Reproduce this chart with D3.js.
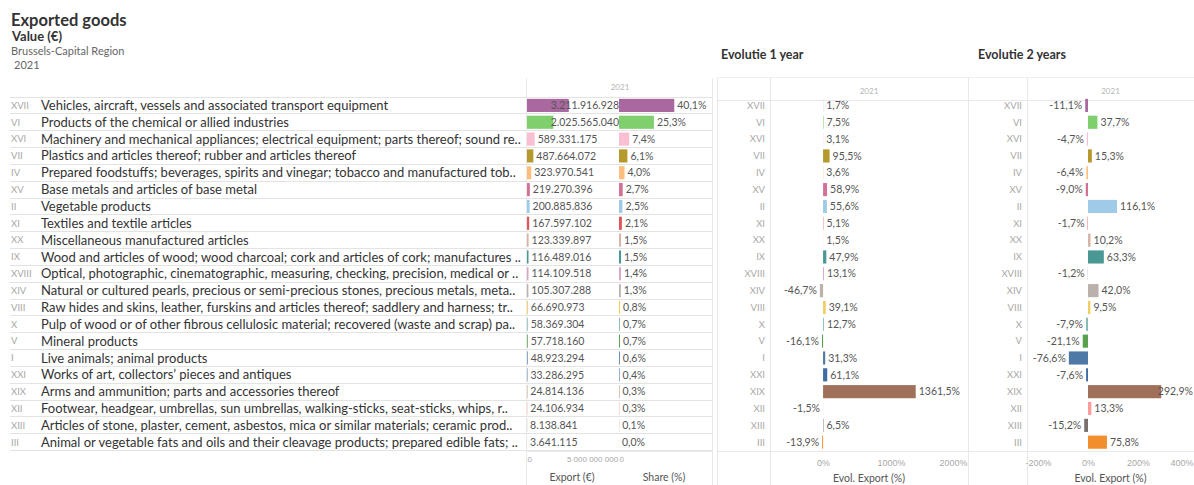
<!DOCTYPE html>
<html>
<head>
<meta charset="utf-8">
<script src="https://cdn.jsdelivr.net/npm/d3@7"></script>
<style>
  html, body { margin: 0; padding: 0; background: #fff; }
  svg { display: block; font-family: Lato, "Open Sans", sans-serif; }
</style>
</head>
<body>
<svg id="chart" width="1194" height="485"></svg>
<script>
// HS sections, in the order they are listed (largest export first)
const sections = ["XVII","VI","XVI","VII","IV","XV","II","XI","XX","IX","XVIII","XIV","VIII","X","V","I","XXI","XIX","XII","XIII","III"];

const sectionNames = [
  "Vehicles, aircraft, vessels and associated transport equipment",
  "Products of the chemical or allied industries",
  "Machinery and mechanical appliances; electrical equipment; parts thereof; sound re..",
  "Plastics and articles thereof; rubber and articles thereof",
  "Prepared foodstuffs; beverages, spirits and vinegar; tobacco and manufactured tob..",
  "Base metals and articles of base metal",
  "Vegetable products",
  "Textiles and textile articles",
  "Miscellaneous manufactured articles",
  "Wood and articles of wood; wood charcoal; cork and articles of cork; manufactures ..",
  "Optical, photographic, cinematographic, measuring, checking, precision, medical or ..",
  "Natural or cultured pearls, precious or semi-precious stones, precious metals, meta..",
  "Raw hides and skins, leather, furskins and articles thereof; saddlery and harness; tr..",
  "Pulp of wood or of other fibrous cellulosic material; recovered (waste and scrap) pa..",
  "Mineral products",
  "Live animals; animal products",
  "Works of art, collectors’ pieces and antiques",
  "Arms and ammunition; parts and accessories thereof",
  "Footwear, headgear, umbrellas, sun umbrellas, walking-sticks, seat-sticks, whips, r..",
  "Articles of stone, plaster, cement, asbestos, mica or similar materials; ceramic prod..",
  "Animal or vegetable fats and oils and their cleavage products; prepared edible fats; .."
];

// Export value in euro, 2021
const exportValues = [3211916928, 2025565040, 589331175, 487664072, 323970541, 219270396, 200885836, 167597102, 123339897, 116489016, 114109518, 105307288, 66690973, 58369304, 57718160, 48923294, 33286295, 24814136, 24106934, 8138841, 3641115];

// Share of total export (%)
const shareValues = [40.1, 25.3, 7.4, 6.1, 4.0, 2.7, 2.5, 2.1, 1.5, 1.5, 1.4, 1.3, 0.8, 0.7, 0.7, 0.6, 0.4, 0.3, 0.3, 0.1, 0.0];

// Evolution of export value over 1 year and over 2 years (%)
const evol1Values = [1.7, 7.5, 3.1, 95.5, 3.6, 58.9, 55.6, 5.1, 1.5, 47.9, 13.1, -46.7, 39.1, 12.7, -16.1, 31.3, 61.1, 1361.5, -1.5, 6.5, -13.9];
const evol2Values = [-11.1, 37.7, -4.7, 15.3, -6.4, -9.0, 116.1, -1.7, 10.2, 63.3, -1.2, 42.0, 9.5, -7.9, -21.1, -76.6, -7.6, 292.9, 13.3, -15.2, 75.8];

// Axis ticks
const exportTicks = [0, 5000000000];
const shareTicks = [0];
const evol1Ticks = [0, 1000, 2000];
const evol2Ticks = [-200, 0, 200, 400];

// One colour per HS section (I .. XXI)
const sectionOrder = ["I","II","III","IV","V","VI","VII","VIII","IX","X","XI","XII","XIII","XIV","XV","XVI","XVII","XVIII","XIX","XX","XXI"];
const palette = ["#4e79a7","#a0cbe8","#f28e2b","#ffbe7d","#59a14f","#7fcf6d","#b6992d","#f1ce63","#499894","#86bcb6",
                 "#e15759","#ff9d9a","#79706e","#bab0ac","#d37295","#fabfd2","#a9689f","#d4a6c8","#a0705a","#d7b5a6","#3f6d9f"];
const color = d3.scaleOrdinal().domain(sectionOrder).range(palette);

const nl = d3.formatLocale({decimal: ",", thousands: ".", grouping: [3], currency: ["€", ""], minus: "-"});
const fmtInt = nl.format(",.0f");
const fmtPct = v => nl.format(".1f")(v) + "%";
const fmtTickPct = v => nl.format(".0f")(v) + "%";

const rows = sections.map((s, i) => ({
  id: s, name: sectionNames[i], exp: exportValues[i], share: shareValues[i],
  e1: evol1Values[i], e2: evol2Values[i]
}));

const svg = d3.select("#chart");
const W = 1194, H = 485;

const GRID = "#e3e3e3", PANEL = "#e8e8e8";
const DIM = "#a8a8a8", LABEL = "#333", VALUE = "#555";

// Row layout shared by all panels
const rowBand = d3.scaleBand().domain(sections).range([97, 450.6]).padding(0);
const barBand = d3.scaleBand().domain(sections).range([97, 450.6]).paddingInner(0.22).paddingOuter(0.11);

// ---------- Titles ----------
svg.append("text").attr("x", 11).attr("y", 26).attr("font-size", 16.5).attr("font-weight", 700)
  .attr("fill", "#333").text("Exported goods");
svg.append("text").attr("x", 12).attr("y", 41).attr("font-size", 13).attr("font-weight", 700)
  .attr("fill", "#333").text("Value (€)");
svg.append("text").attr("x", 11).attr("y", 55).attr("font-size", 11)
  .attr("fill", "#666").text("Brussels-Capital Region");
svg.append("text").attr("x", 14).attr("y", 69).attr("font-size", 11)
  .attr("fill", "#666").text("2021");
svg.append("text").attr("x", 721).attr("y", 59).attr("font-size", 12.5).attr("font-weight", 700)
  .attr("fill", "#333").text("Evolutie 1 year");
svg.append("text").attr("x", 978).attr("y", 59).attr("font-size", 12.5).attr("font-weight", 700)
  .attr("fill", "#333").text("Evolutie 2 years");

// ---------- Main table ----------
const xExport = d3.scaleLinear().domain([0, 7000000000]).range([527, 618]);
const xShare = d3.scaleLinear().domain([0, 66]).range([619, 710]);

const table = svg.append("g");

// Row separators
table.selectAll("line.row").data(sections.concat(["__end"])).join("line")
  .attr("x1", 10).attr("x2", 712)
  .attr("y1", (d, i) => 97 + i * rowBand.step()).attr("y2", (d, i) => 97 + i * rowBand.step())
  .attr("stroke", GRID).attr("stroke-width", 1).attr("shape-rendering", "crispEdges");

// Pane borders
[526, 712].forEach(x => table.append("line").attr("x1", x).attr("x2", x).attr("y1", 78).attr("y2", H)
  .attr("stroke", PANEL).attr("shape-rendering", "crispEdges"));
table.append("text").attr("x", 620).attr("y", 90).attr("text-anchor", "middle")
  .attr("font-size", 8).attr("fill", "#b5b5b5").text("2021");

// Section numbers and names
table.selectAll("text.num").data(rows).join("text")
  .attr("x", 11).attr("y", d => rowBand(d.id) + rowBand.bandwidth() / 2)
  .attr("dy", "0.35em").attr("font-size", 9.5).attr("fill", DIM).text(d => d.id);

table.selectAll("text.name").data(rows).join("text")
  .attr("x", 41).attr("y", d => rowBand(d.id) + rowBand.bandwidth() / 2)
  .attr("dy", "0.35em").attr("font-size", 13).attr("fill", LABEL).text(d => d.name)
  .each(function () {
    const w = this.getComputedTextLength();
    if (w > 482) d3.select(this).attr("textLength", 482).attr("lengthAdjust", "spacingAndGlyphs");
  });

// Bars with value labels that stay inside their pane
function barColumn(g, scale, key, fmt, right) {
  g.selectAll(null).data(rows).join("rect")
    .attr("x", scale(0)).attr("y", d => barBand(d.id))
    .attr("width", d => Math.max(0, scale(d[key]) - scale(0)))
    .attr("height", barBand.bandwidth())
    .attr("fill", d => color(d.id));
  g.selectAll(null).data(rows).join("text")
    .attr("y", d => rowBand(d.id) + rowBand.bandwidth() / 2).attr("dy", "0.35em")
    .attr("font-size", 10.5).attr("fill", VALUE).text(d => fmt(d[key]))
    .each(function (d) {
      const w = this.getComputedTextLength();
      let x = scale(d[key]) + 3;
      if (x + w > right) x = right - w;
      d3.select(this).attr("x", x);
    });
}
barColumn(table.append("g"), xExport, "exp", fmtInt, 619);
barColumn(table.append("g"), xShare, "share", fmtPct, 709);

// Bottom axes of the table
table.append("line").attr("x1", 526).attr("x2", 712).attr("y1", 451).attr("y2", 451)
  .attr("stroke", PANEL).attr("shape-rendering", "crispEdges");

function styleAxis(g, size) {
  g.select(".domain").remove();
  g.selectAll(".tick line").remove();
  g.selectAll(".tick text").attr("font-size", size).attr("fill", DIM).attr("font-family", null);
}
const axExport = table.append("g").attr("transform", "translate(0,453)")
  .call(d3.axisBottom(xExport).tickValues(exportTicks).tickSize(0).tickFormat(v => v === 0 ? "0" : fmtInt(v).replace(/\./g, " ")));
styleAxis(axExport, 8);
axExport.selectAll(".tick text").filter(d => d === 0).attr("text-anchor", "start");
const axShare = table.append("g").attr("transform", "translate(0,453)")
  .call(d3.axisBottom(xShare).tickValues(shareTicks).tickSize(0).tickFormat(() => "0"));
styleAxis(axShare, 8);
axShare.selectAll(".tick text").attr("text-anchor", "start");

table.append("text").attr("x", 572).attr("y", 481).attr("text-anchor", "middle")
  .attr("font-size", 10.5).attr("fill", VALUE).text("Export (€)");
table.append("text").attr("x", 664).attr("y", 481).attr("text-anchor", "middle")
  .attr("font-size", 10.5).attr("fill", VALUE).text("Share (%)");

// ---------- Evolution panels ----------
function evolPanel(opts) {
  const { left, sep, right, domain, key, ticks } = opts;
  const g = svg.append("g");
  const x = d3.scaleLinear().domain(domain).range([sep, right]);

  g.append("line").attr("x1", left).attr("x2", left).attr("y1", 77).attr("y2", H)
    .attr("stroke", PANEL).attr("shape-rendering", "crispEdges");
  g.append("line").attr("x1", sep).attr("x2", sep).attr("y1", 77).attr("y2", H)
    .attr("stroke", PANEL).attr("shape-rendering", "crispEdges");
  g.append("line").attr("x1", left).attr("x2", right).attr("y1", 77).attr("y2", 77)
    .attr("stroke", "#f0f0f0").attr("shape-rendering", "crispEdges");
  g.append("line").attr("x1", left).attr("x2", right).attr("y1", 100).attr("y2", 100)
    .attr("stroke", PANEL).attr("shape-rendering", "crispEdges");
  g.append("line").attr("x1", left).attr("x2", right).attr("y1", 451).attr("y2", 451)
    .attr("stroke", PANEL).attr("shape-rendering", "crispEdges");
  g.append("text").attr("x", (sep + right) / 2).attr("y", 94).attr("text-anchor", "middle")
    .attr("font-size", 8).attr("fill", "#b5b5b5").text("2021");

  g.selectAll("text.num").data(rows).join("text")
    .attr("x", sep - 5).attr("y", d => rowBand(d.id) + rowBand.bandwidth() / 2)
    .attr("dy", "0.35em").attr("text-anchor", "end")
    .attr("font-size", 9.5).attr("fill", DIM).text(d => d.id);

  g.selectAll("rect").data(rows).join("rect")
    .attr("x", d => Math.min(x(0), x(d[key])))
    .attr("y", d => barBand(d.id))
    .attr("width", d => Math.abs(x(d[key]) - x(0)))
    .attr("height", barBand.bandwidth())
    .attr("fill", d => color(d.id));

  g.selectAll("text.val").data(rows).join("text")
    .attr("y", d => rowBand(d.id) + rowBand.bandwidth() / 2).attr("dy", "0.35em")
    .attr("font-size", 10.5).attr("fill", VALUE).text(d => fmtPct(d[key]))
    .each(function (d) {
      const v = d[key], w = this.getComputedTextLength();
      let xs = v >= 0 ? x(v) + 3 : x(v) - 3 - w;
      if (xs + w > right - 1) xs = right - 1 - w;
      d3.select(this).attr("x", xs);
    });

  const ax = g.append("g").attr("transform", "translate(0,457)")
    .call(d3.axisBottom(x).tickValues(ticks).tickSize(0).tickFormat(fmtTickPct));
  styleAxis(ax, 9);
  // keep edge tick labels inside the panel
  ax.selectAll(".tick text").each(function (d) {
    const w = this.getComputedTextLength();
    if (x(d) + w / 2 > right - 1) d3.select(this).attr("text-anchor", "end").attr("x", right - 1 - x(d));
  });

  g.append("text").attr("x", (sep + right) / 2).attr("y", 482).attr("text-anchor", "middle")
    .attr("font-size", 10.5).attr("fill", VALUE).text("Evol. Export (%)");
}

evolPanel({ left: 717, sep: 770, right: 968, domain: [-780, 2130], key: "e1", ticks: evol1Ticks });
evolPanel({ left: 968, sep: 1027, right: 1194, domain: [-244, 424], key: "e2", ticks: evol2Ticks });
</script>
</body>
</html>
